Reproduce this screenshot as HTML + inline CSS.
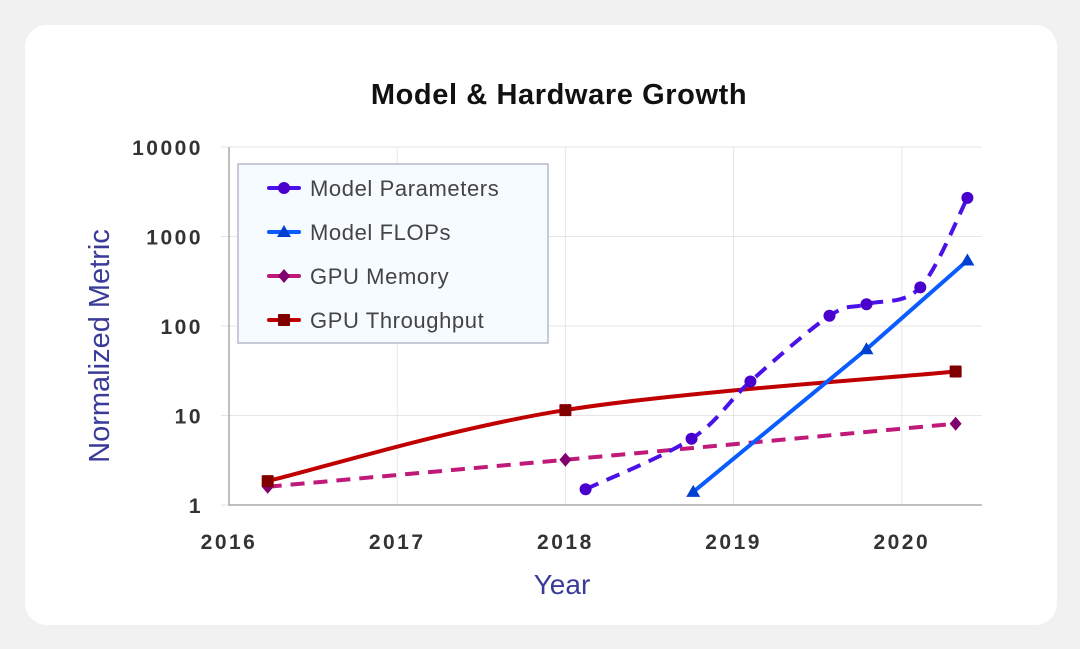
<!DOCTYPE html>
<html><head><meta charset="utf-8"><style>
body{margin:0;background:#f1f1f1;width:1080px;height:649px;overflow:hidden;font-family:"Liberation Sans",sans-serif}
#card{position:absolute;left:25px;top:25px;width:1032px;height:600px;background:#fff;border-radius:22px}
</style></head><body>
<div id="card"></div>
<svg id="chart" width="1080" height="649" style="position:absolute;left:0;top:0">
<text x="559" y="104" text-anchor="middle" font-size="29" font-weight="bold" letter-spacing="0.6" fill="#111">Model &amp; Hardware Growth</text>
<text transform="translate(109,346) rotate(-90)" text-anchor="middle" font-size="29" fill="#3a3a99">Normalized Metric</text>
<text x="562" y="594" text-anchor="middle" font-size="28" fill="#3a3a99">Year</text>
<g id="grid"></g><g id="series"></g><g id="legend"></g>
</svg>
<script>
const xTicks=[2016,2017,2018,2019,2020];
const yTicks=[1,10,100,1000,10000];
const paramX=[2018.12,2018.75,2019.1,2019.57,2019.79,2020.11,2020.39];
const paramY=[1.5,5.5,24,130,175,270,2700];
const flopsX=[2018.76,2019.79,2020.39];
const flopsY=[1.4,55,540];
const memX=[2016.23,2018.0,2020.32];
const memY=[1.6,3.2,8.1];
const thrX=[2016.23,2018.0,2020.32];
const thrY=[1.85,11.5,31];
const L=229,R=982,T=147,B=505;
const xs=v=>L+(v-2016)*168.2;
const ys=v=>B-Math.log10(v)*(B-T)/4;
const NS="http://www.w3.org/2000/svg";
function mk(tag,at,parent){const e=document.createElementNS(NS,tag);for(const k in at)e.setAttribute(k,at[k]);parent.appendChild(e);return e;}
const grid=document.getElementById('grid'),ser=document.getElementById('series'),leg=document.getElementById('legend');
xTicks.forEach(t=>{
 if(t>2016){const g=mk('line',{x1:xs(t),x2:xs(t),y1:T,y2:B,stroke:'#e6e6e6','stroke-width':1},grid);
 
 }
 const tx=mk('text',{x:xs(t),y:549,'text-anchor':'middle','font-size':21,'font-weight':'bold','letter-spacing':2.5,fill:'#333'},grid);tx.textContent=t;
 
 
});
yTicks.forEach(t=>{
 const g=mk('line',{x1:L-8,x2:R,y1:ys(t),y2:ys(t),stroke:'#e6e6e6','stroke-width':1},grid);
 
 
 const tx=mk('text',{x:L-26,y:ys(t)+8,'text-anchor':'end','font-size':21,'font-weight':'bold','letter-spacing':2.5,fill:'#333'},grid);tx.textContent=t;
 
 
});
const ax=mk('path',{d:`M${L} ${T}V${B}H${R}`,fill:'none',stroke:'#aaa','stroke-width':1.5},grid);


function smooth(pts){let d=`M${pts[0][0]} ${pts[0][1]}`;for(let i=0;i<pts.length-1;i++){const p0=pts[i-1]||pts[i],p1=pts[i],p2=pts[i+1],p3=pts[i+2]||p2;const k=6;d+=` C${p1[0]+(p2[0]-p0[0])/k} ${p1[1]+(p2[1]-p0[1])/k},${p2[0]-(p3[0]-p1[0])/k} ${p2[1]-(p3[1]-p1[1])/k},${p2[0]} ${p2[1]}`;}return d;}
function series(X,Y,color,mcol,dash,marker,name,sm){
 const pts=X.map((x,i)=>[xs(x),ys(Y[i])]);
 const p=mk('path',{d:sm?smooth(pts):'M'+pts.map(q=>q.join(' ')).join('L'),fill:'none',stroke:color,'stroke-width':4,'stroke-dasharray':dash||'none'},ser);
 
 
 pts.forEach(q=>{const m=drawMarker(q[0],q[1],marker,mcol,ser);
  
  });
}
function drawMarker(x,y,type,color,parent){
 if(type==='circle')return mk('circle',{cx:x,cy:y,r:6,fill:color},parent);
 if(type==='tri')return mk('path',{d:`M${x} ${y-7}L${x+7} ${y+5}L${x-7} ${y+5}Z`,fill:color},parent);
 if(type==='dia')return mk('path',{d:`M${x} ${y-7}L${x+6} ${y}L${x} ${y+7}L${x-6} ${y}Z`,fill:color},parent);
 return mk('rect',{x:x-6,y:y-6,width:12,height:12,fill:color,rx:1},parent);
}
series(memX,memY,'#c0197a','#800070','14 9','dia','gpu-memory',false);
series(thrX,thrY,'#c00000','#800000',null,'sq','gpu-throughput',true);
series(paramX,paramY,'#4a12e8','#4a00cc','14 9','circle','model-parameters',true);
series(flopsX,flopsY,'#0a5cff','#0040d0',null,'tri','model-flops',false);
const lb=mk('rect',{x:238,y:164,width:310,height:179,fill:'#f6fbff',stroke:'#b8b8c8','stroke-width':1.5},leg);


const names=['Model Parameters','Model FLOPs','GPU Memory','GPU Throughput'];
const cols=['#4a12e8','#0a5cff','#c0197a','#c00000'];
const mcols=['#4a00cc','#0040d0','#800070','#800000'];
const mks=['circle','tri','dia','sq'];
names.forEach((n,i)=>{
 const y=188+i*44;
 const g=mk('g',{},leg);
 
 
 mk('line',{x1:269,x2:299,y1:y,y2:y,stroke:cols[i],'stroke-width':4,'stroke-linecap':'round'},g);
 drawMarker(284,y,mks[i],mcols[i],g);
 const t=mk('text',{x:310,y:y+8,'font-size':22,'letter-spacing':0.6,fill:'#444'},g);t.textContent=n;
});
</script>
</body></html>
